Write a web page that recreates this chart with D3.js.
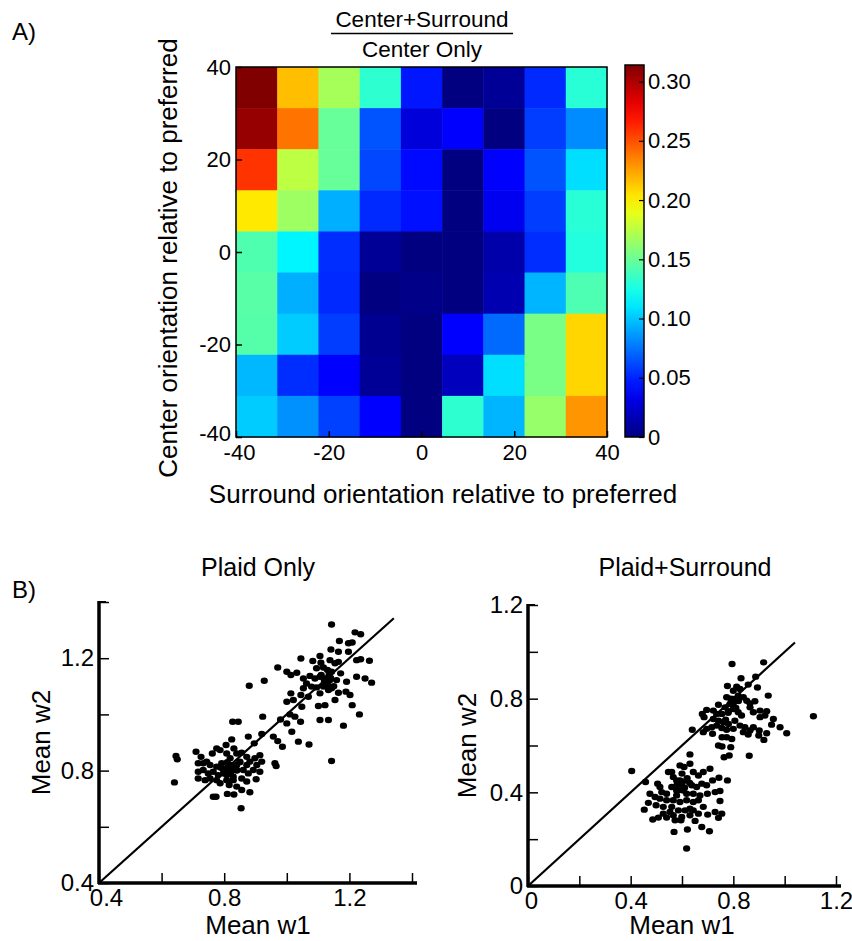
<!DOCTYPE html>
<html>
<head>
<meta charset="utf-8">
<script src="https://d3js.org/d3.v7.min.js"></script>
<style>
  body { margin: 0; background: #fff; }
  text { font-family: "Liberation Sans", Arial, sans-serif; fill: #000; }
</style>
</head>
<body>
<div id="chart"></div>
<script>
// heatmap rows from top (center = +40) to bottom (center = -40), columns surround -40..40
const centerRows = ["r1", "r2", "r3", "r4", "r5", "r6", "r7", "r8", "r9"];
const surroundCols = ["c1", "c2", "c3", "c4", "c5", "c6", "c7", "c8", "c9"];
const ratioValues = [
  [0.314, 0.216, 0.169, 0.132, 0.046, 0.000, 0.007, 0.052, 0.130],
  [0.307, 0.239, 0.149, 0.065, 0.028, 0.039, 0.000, 0.058, 0.082],
  [0.259, 0.176, 0.149, 0.061, 0.042, 0.000, 0.039, 0.065, 0.108],
  [0.203, 0.166, 0.093, 0.052, 0.044, 0.000, 0.035, 0.058, 0.130],
  [0.142, 0.115, 0.053, 0.007, 0.000, 0.000, 0.013, 0.053, 0.128],
  [0.145, 0.093, 0.052, 0.000, 0.003, 0.000, 0.015, 0.095, 0.141],
  [0.144, 0.102, 0.058, 0.005, 0.000, 0.039, 0.072, 0.155, 0.209],
  [0.096, 0.053, 0.039, 0.007, 0.000, 0.019, 0.108, 0.155, 0.209],
  [0.102, 0.084, 0.059, 0.039, 0.000, 0.132, 0.095, 0.164, 0.229]
];
const orientTicks = [-40, -20, 0, 20, 40];
const colorTicks = [0, 0.05, 0.10, 0.15, 0.20, 0.25, 0.30];

// scatter data [mean w1, mean w2]
const plaidOnly = [
  [1.143,1.320],[1.218,1.292],[1.236,1.285],[1.168,1.261],[1.197,1.253],[1.209,1.256],[1.141,1.231],[1.165,1.223],
  [1.197,1.223],[1.106,1.208],[1.223,1.193],[1.264,1.191],[1.236,1.196],[1.045,1.199],[1.083,1.190],[1.109,1.184],
  [1.138,1.193],[1.154,1.182],[1.165,1.187],[0.971,1.167],[1.000,1.152],[1.013,1.140],[1.032,1.148],[1.095,1.164],
  [1.117,1.167],[1.130,1.158],[1.143,1.152],[1.172,1.146],[1.074,1.137],[1.053,1.128],[1.090,1.128],[1.106,1.134],
  [1.122,1.128],[1.138,1.122],[1.159,1.122],[1.191,1.116],[1.223,1.134],[1.250,1.128],[1.271,1.113],[0.928,1.120],
  [0.880,1.102],[1.063,1.110],[1.079,1.099],[1.095,1.096],[1.117,1.099],[1.133,1.087],[1.053,1.093],[1.045,1.069],
  [1.069,1.063],[1.106,1.075],[1.143,1.093],[1.165,1.077],[1.189,1.081],[1.202,1.069],[1.013,1.075],[1.000,1.045],
  [1.021,1.051],[1.048,1.027],[1.101,1.030],[1.122,1.033],[1.154,1.051],[1.209,1.033],[1.232,1.000],[0.923,0.992],
  [0.980,0.982],[1.000,0.968],[1.010,1.000],[1.026,0.992],[1.044,0.974],[1.106,0.980],[1.133,0.980],[1.181,0.960],
  [0.827,0.974],[0.845,0.974],[0.920,0.930],[0.957,0.921],[0.971,0.905],[1.016,0.938],[1.037,0.903],[1.071,0.893],
  [0.986,0.885],[0.877,0.921],[0.896,0.897],[1.143,0.834],[0.962,0.826],[0.966,0.816],
  [1.120,1.120],[1.130,1.110],[1.140,1.130],[1.110,1.140],[1.150,1.100],[1.125,1.105],[1.135,1.140],
  [0.646,0.852],[0.650,0.840],[0.710,0.867],[0.726,0.849],[0.744,0.832],[0.762,0.861],[0.776,0.879],[0.787,0.873],
  [0.806,0.891],[0.824,0.911],[0.831,0.879],[0.808,0.861],[0.819,0.844],[0.840,0.861],[0.856,0.864],[0.872,0.849],
  [0.882,0.832],[0.898,0.844],[0.914,0.855],[0.920,0.832],[0.904,0.820],[0.872,0.820],[0.850,0.832],[0.840,0.820],
  [0.829,0.814],[0.813,0.814],[0.792,0.826],[0.776,0.814],[0.755,0.820],[0.733,0.826],[0.717,0.826],[0.717,0.796],
  [0.733,0.802],[0.749,0.790],[0.765,0.796],[0.781,0.784],[0.797,0.790],[0.819,0.796],[0.840,0.802],[0.861,0.802],
  [0.877,0.790],[0.893,0.802],[0.914,0.796],[0.717,0.772],[0.739,0.766],[0.755,0.772],[0.776,0.766],[0.787,0.755],
  [0.808,0.766],[0.829,0.766],[0.856,0.772],[0.872,0.761],[0.902,0.769],[0.641,0.758],[0.816,0.749],[0.840,0.743],
  [0.856,0.731],[0.882,0.723],[0.765,0.707],[0.774,0.707],[0.810,0.717],[0.831,0.715],[0.854,0.666],[0.829,0.778],
  [0.797,0.808],[0.808,0.784],[0.820,0.820],[0.830,0.810],[0.810,0.830],[0.840,0.800],[0.800,0.800],[0.850,0.830],
  [0.820,0.790],[0.790,0.810]
];
const plaidSurround = [
  [0.795,0.948],[0.918,0.955],[0.887,0.894],[0.830,0.887],[0.894,0.848],[0.777,0.854],[0.813,0.851],[0.826,0.841],
  [0.800,0.834],[0.858,0.860],[0.936,0.813],[0.884,0.789],[0.774,0.806],[0.800,0.799],[0.819,0.813],[0.839,0.806],
  [0.852,0.791],[0.865,0.780],[0.787,0.777],[0.768,0.763],[0.742,0.774],[0.722,0.749],[0.696,0.752],[0.679,0.735],
  [0.686,0.721],[0.735,0.735],[0.755,0.735],[0.781,0.746],[0.800,0.756],[0.819,0.742],[0.832,0.728],[0.865,0.763],
  [0.878,0.742],[0.904,0.749],[0.930,0.746],[0.956,0.713],[0.904,0.721],[0.923,0.728],[0.982,0.678],[1.008,0.652],
  [1.112,0.725],[0.722,0.713],[0.742,0.706],[0.761,0.699],[0.781,0.692],[0.806,0.706],[0.826,0.685],[0.845,0.678],
  [0.865,0.664],[0.858,0.647],[0.839,0.657],[0.800,0.671],[0.774,0.667],[0.755,0.675],[0.735,0.685],[0.716,0.678],
  [0.696,0.671],[0.683,0.657],[0.719,0.650],[0.756,0.635],[0.774,0.635],[0.794,0.628],[0.899,0.643],[0.930,0.652],
  [0.919,0.624],[0.949,0.689],[0.901,0.664],[0.640,0.667],[0.742,0.600],[0.756,0.596],[0.790,0.593],[0.764,0.550],
  [0.784,0.557],[0.862,0.556],[0.878,0.678],
  [0.800,0.780],[0.810,0.760],[0.790,0.800],[0.820,0.790],[0.780,0.740],[0.770,0.710],
  [0.404,0.491],[0.458,0.444],[0.505,0.437],[0.514,0.423],[0.521,0.401],[0.547,0.487],[0.560,0.487],[0.566,0.465],
  [0.579,0.451],[0.592,0.515],[0.608,0.508],[0.631,0.522],[0.631,0.562],[0.644,0.487],[0.664,0.472],[0.683,0.487],
  [0.709,0.501],[0.719,0.451],[0.744,0.462],[0.777,0.451],[0.729,0.401],[0.748,0.406],[0.699,0.394],[0.670,0.387],
  [0.644,0.394],[0.618,0.394],[0.599,0.423],[0.579,0.408],[0.560,0.423],[0.540,0.394],[0.475,0.394],[0.495,0.380],
  [0.514,0.373],[0.540,0.366],[0.566,0.366],[0.592,0.359],[0.618,0.366],[0.644,0.359],[0.664,0.366],[0.469,0.355],
  [0.499,0.345],[0.527,0.338],[0.560,0.338],[0.586,0.323],[0.612,0.323],[0.631,0.330],[0.644,0.323],[0.664,0.309],
  [0.683,0.338],[0.748,0.363],[0.729,0.316],[0.755,0.309],[0.742,0.291],[0.700,0.305],[0.631,0.302],[0.599,0.295],
  [0.566,0.302],[0.540,0.292],[0.508,0.292],[0.486,0.284],[0.453,0.326],[0.596,0.281],[0.651,0.278],[0.677,0.252],
  [0.707,0.234],[0.621,0.241],[0.569,0.231],[0.618,0.160],[0.592,0.451],[0.618,0.451],[0.579,0.387],[0.605,0.408],
  [0.638,0.430],[0.657,0.423],[0.677,0.437],[0.696,0.430],[0.527,0.309],[0.553,0.316],[0.573,0.281],
  [0.600,0.440],[0.610,0.420],[0.590,0.410],[0.620,0.460],[0.600,0.480],[0.580,0.430],[0.630,0.440]
];
const leftTicks = [0.4, 0.6, 0.8, 1.0, 1.2, 1.4];
const leftLabels = [0.4, 0.8, 1.2];
const rightTicks = [0, 0.2, 0.4, 0.6, 0.8, 1.0, 1.2];
const rightLabels = [0, 0.4, 0.8, 1.2];

const W = 852, H = 941;
const svg = d3.select("#chart").append("svg")
  .attr("width", W).attr("height", H);

// ---------- panel A: heatmap ----------
const hm = {left: 236, right: 607, top: 67, bottom: 437};
const xBand = d3.scaleBand().domain(surroundCols).range([hm.left, hm.right]);
const yBand = d3.scaleBand().domain(centerRows).range([hm.top, hm.bottom]);
const xOri = d3.scaleLinear().domain([-40, 40]).range([hm.left, hm.right]);
const yOri = d3.scaleLinear().domain([-40, 40]).range([hm.bottom, hm.top]);
const vMax = 0.314;
const color = d3.scaleSequential(t => jet(t)).domain([0, vMax]);

// matlab style jet colormap
function jet(t) {
  const r = Math.max(0, Math.min(1, Math.min(4 * t - 1.5, -4 * t + 4.5)));
  const g = Math.max(0, Math.min(1, Math.min(4 * t - 0.5, -4 * t + 3.5)));
  const b = Math.max(0, Math.min(1, Math.min(4 * t + 0.5, -4 * t + 2.5)));
  return d3.rgb(r * 255, g * 255, b * 255).toString();
}

const cells = [];
ratioValues.forEach((row, i) => row.forEach((v, j) => {
  cells.push({row: centerRows[i], col: surroundCols[j], v: v});
}));

svg.append("g").selectAll("rect")
  .data(cells)
  .enter().append("rect")
  .attr("x", d => xBand(d.col))
  .attr("y", d => yBand(d.row))
  .attr("width", xBand.bandwidth() + 0.5)
  .attr("height", yBand.bandwidth() + 0.5)
  .attr("fill", d => color(d.v));

svg.append("rect")
  .attr("x", hm.left).attr("y", hm.top)
  .attr("width", hm.right - hm.left).attr("height", hm.bottom - hm.top)
  .attr("fill", "none").attr("stroke", "#000").attr("stroke-width", 1.5);

// inward ticks, plain hyphen minus like the original
svg.append("g")
  .attr("transform", "translate(0," + hm.bottom + ")")
  .call(d3.axisBottom(xOri).tickValues(orientTicks).tickSize(-6).tickPadding(7).tickFormat(d => String(d)))
  .call(g => g.select(".domain").remove())
  .call(g => g.selectAll("line").attr("stroke-width", 1.5))
  .call(g => g.selectAll("text").attr("font-size", 22)
    .attr("dx", d => d === -40 ? 3 : 0));

svg.append("g")
  .attr("transform", "translate(" + hm.left + ",0)")
  .call(d3.axisLeft(yOri).tickValues(orientTicks).tickSize(-6).tickPadding(5).tickFormat(d => String(d)))
  .call(g => g.select(".domain").remove())
  .call(g => g.selectAll("line").attr("stroke-width", 1.5))
  .call(g => g.selectAll("text").attr("font-size", 22)
    .attr("y", d => d === -40 ? -4 : 0));

// title as a fraction
svg.append("text").attr("x", 422).attr("y", 27).attr("text-anchor", "middle")
  .attr("font-size", 22.5).text("Center+Surround");
svg.append("line").attr("x1", 331).attr("x2", 513).attr("y1", 33.5).attr("y2", 33.5)
  .attr("stroke", "#000").attr("stroke-width", 1.5);
svg.append("text").attr("x", 422).attr("y", 57).attr("text-anchor", "middle")
  .attr("font-size", 22.5).text("Center Only");

svg.append("text").attr("x", 443).attr("y", 503).attr("text-anchor", "middle")
  .attr("font-size", 26).text("Surround orientation relative to preferred");
svg.append("text").attr("transform", "translate(177,258) rotate(-90)")
  .attr("text-anchor", "middle").attr("font-size", 26)
  .text("Center orientation relative to preferred");

svg.append("text").attr("x", 12).attr("y", 40).attr("font-size", 24).text("A)");

// colorbar
const cb = {x: 625, w: 19, top: 65, bottom: 437};
const cbScale = d3.scaleLinear().domain([0, vMax]).range([cb.bottom, cb.top]);
const defs = svg.append("defs");
const grad = defs.append("linearGradient").attr("id", "jetgrad")
  .attr("x1", 0).attr("x2", 0).attr("y1", 1).attr("y2", 0);
d3.range(0, 1.0001, 0.05).forEach(t => {
  grad.append("stop").attr("offset", t).attr("stop-color", jet(t));
});
svg.append("rect").attr("x", cb.x).attr("y", cb.top)
  .attr("width", cb.w).attr("height", cb.bottom - cb.top)
  .attr("fill", "url(#jetgrad)").attr("stroke", "#000").attr("stroke-width", 1.5);
svg.append("g")
  .attr("transform", "translate(" + (cb.x + cb.w) + ",0)")
  .call(d3.axisRight(cbScale).tickValues(colorTicks).tickSize(-5).tickPadding(4)
    .tickFormat(d => d === 0 ? "0" : d3.format(".2f")(d)))
  .call(g => g.select(".domain").remove())
  .call(g => g.selectAll("line").attr("stroke-width", 1.2))
  .call(g => g.selectAll("text").attr("font-size", 22));

// ---------- panel B: scatter plots ----------
svg.append("text").attr("x", 12).attr("y", 598).attr("font-size", 24).text("B)");

function scatter(opts) {
  const x = d3.scaleLinear().domain(opts.xDomain).range([opts.left, opts.right]);
  const y = d3.scaleLinear().domain(opts.yDomain).range([opts.bottom, opts.top]);
  const g = svg.append("g");

  g.append("line")
    .attr("x1", x(opts.lineFrom)).attr("y1", y(opts.lineFrom))
    .attr("x2", x(opts.lineTo)).attr("y2", y(opts.lineTo))
    .attr("stroke", "#000").attr("stroke-width", 2.2);

  g.selectAll("ellipse")
    .data(opts.data)
    .enter().append("ellipse")
    .attr("cx", d => x(d[0]))
    .attr("cy", d => y(d[1]))
    .attr("rx", 3.6).attr("ry", 3.2)
    .attr("fill", "#000");

  const fmt = d => d === 0 ? "0" : d3.format(".1f")(d);
  g.append("g")
    .attr("transform", "translate(0," + opts.bottom + ")")
    .call(d3.axisBottom(x).tickValues(opts.ticksX).tickSize(-10).tickPadding(6)
      .tickFormat(d => opts.labels.includes(d) ? fmt(d) : ""))
    .call(a => a.select(".domain").attr("stroke-width", 3.5).attr("d", "M" + (opts.left - 1) + ",0H" + (opts.right + 5)))
    .call(a => a.selectAll("line").attr("stroke-width", 1.5))
    .call(a => a.selectAll("text").attr("font-size", 24)
      .attr("dx", d => d === opts.xDomain[0] ? opts.firstShift : 0));

  g.append("g")
    .attr("transform", "translate(" + opts.left + ",0)")
    .call(d3.axisLeft(y).tickValues(opts.ticksY).tickSize(-10).tickPadding(5)
      .tickFormat(d => opts.labels.includes(d) ? fmt(d) : ""))
    .call(a => a.select(".domain").attr("stroke-width", 3.5).attr("d", "M0," + (opts.top - 1) + "V" + (opts.bottom + 1)))
    .call(a => a.selectAll("line").attr("stroke-width", 1.5))
    .call(a => a.selectAll("text").attr("font-size", 24));

  // short cap at top of y axis
  g.append("line").attr("x1", opts.left).attr("x2", opts.left + 7)
    .attr("y1", opts.top).attr("y2", opts.top).attr("stroke", "#000").attr("stroke-width", 2);

  svg.append("text").attr("x", opts.titleX).attr("y", 576).attr("text-anchor", "middle")
    .attr("font-size", 25).text(opts.title);
  svg.append("text").attr("x", opts.xLabelX).attr("y", 934).attr("text-anchor", "middle")
    .attr("font-size", 26).text("Mean w1");
  svg.append("text")
    .attr("transform", "translate(" + opts.yLabelX + "," + ((opts.top + opts.bottom) / 2) + ") rotate(-90)")
    .attr("text-anchor", "middle").attr("font-size", 26).text("Mean w2");
}

scatter({
  data: plaidOnly, left: 99, right: 412, top: 602, bottom: 883,
  xDomain: [0.4, 1.4], yDomain: [0.4, 1.4], lineFrom: 0.4, lineTo: 1.342,
  ticksX: leftTicks, ticksY: leftTicks, labels: leftLabels, firstShift: 7,
  title: "Plaid Only", titleX: 258, xLabelX: 258, yLabelX: 50
});
scatter({
  data: plaidSurround, left: 528, right: 836, top: 605, bottom: 886,
  xDomain: [0, 1.2], yDomain: [0, 1.2], lineFrom: 0, lineTo: 1.04,
  ticksX: rightTicks, ticksY: rightTicks, labels: rightLabels, firstShift: 3,
  title: "Plaid+Surround", titleX: 685, xLabelX: 682, yLabelX: 476
});
</script>
</body>
</html>
